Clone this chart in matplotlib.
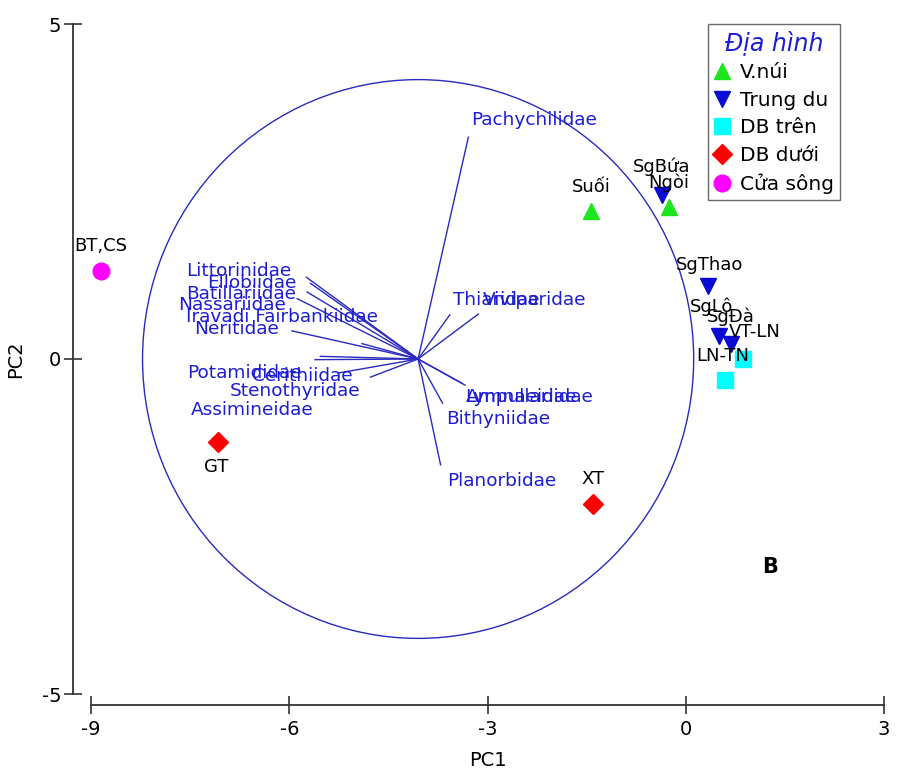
import matplotlib
matplotlib.use("Agg")
import matplotlib.pyplot as plt
from matplotlib.patches import Ellipse
from matplotlib.lines import Line2D

plt.rcParams['font.family'] = ['DejaVu Sans']
plt.rcParams['axes.unicode_minus'] = False

# ---------------- data ----------------
# sample scores
sample_names = ["BT,CS", "GT", "XT", "Suối", "Ngòi", "SgBứa", "SgThao", "SgLô", "SgĐà", "VT-LN", "LN-TN"]
sample_pc1 = [-8.85, -7.08, -1.40, -1.43, -0.26, -0.36, 0.33, 0.51, 0.69, 0.86, 0.59]
sample_pc2 = [1.31, -1.24, -2.16, 2.21, 2.27, 2.45, 1.09, 0.34, 0.22, 0.00, -0.31]
sample_group = ["Cửa sông", "DB dưới", "DB dưới", "V.núi", "V.núi", "Trung du", "Trung du",
                "Trung du", "Trung du", "DB trên", "DB trên"]
# label offsets (pixels) relative to the point
sample_lab_dx = [0, -2, 0, 0, 0, 0, 2, -8, -1, 12, -2]
sample_lab_dy = [25, -25, 25, 24, 24, 28, 21, 29, 28, 27, 24]

# legend groups
groups = ["V.núi", "Trung du", "DB trên", "DB dưới", "Cửa sông"]
group_markers = ["^", "v", "s", "D", "o"]
group_colors = ["#1ee61e", "#0a0ad2", "#00ffff", "#ff0000", "#ff00ff"]

# family loadings (vector end points) and circle
circle_center = (-4.05, 0.0)
circle_radius = 4.17
family_names = ["Pachychilidae", "Thiaridae", "Viviparidae", "Lymnaeidae", "Ampullariidae",
                "Bithyniidae", "Planorbidae", "Littorinidae", "Ellobiidae", "Batillariidae",
                "Nassariidae", "Iravadi Fairbankiidae", "Neritidae", "Potamididae",
                "Cerithiidae", "Stenothyridae", "Assimineidae"]
family_x = [-3.29, -3.57, -3.14, -3.39, -3.34, -3.68, -3.71, -5.74, -5.68, -5.73,
            -5.88, -4.90, -5.96, -5.61, -4.77, -5.26, -5.53]
family_y = [3.31, 0.66, 0.67, -0.36, -0.39, -0.66, -1.58, 1.22, 1.13, 1.00,
            0.90, 0.23, 0.42, -0.01, -0.27, -0.21, 0.04]
family_lab_x = [-3.25, -3.52, -3.07, -3.34, -3.32, -3.63, -3.61, -7.56, -7.24, -7.56,
                -7.68, -7.56, -7.44, -7.55, -6.57, -6.90, -7.49]
family_lab_y = [3.57, 0.88, 0.88, -0.57, -0.57, -0.90, -1.82, 1.31, 1.13, 0.97,
                0.81, 0.63, 0.45, -0.21, -0.25, -0.48, -0.76]

# ---------------- figure ----------------
W, H = 897, 773
fig = plt.figure(figsize=(W / 100, H / 100), dpi=100)
x0, x1 = 91, 884
y_top, y_bot = 24, 694
ax = fig.add_axes([x0 / W, 1 - y_bot / H, (x1 - x0) / W, (y_bot - y_top) / H])
ax.set_xlim(-9, 3)
ax.set_ylim(-5, 5)

blue_txt = "#1c1cd2"
line_blue = "#2a2abf"

circ = Ellipse(circle_center, 2 * circle_radius, 2 * circle_radius, fill=False,
               edgecolor=line_blue, lw=1.0, zorder=1)
ax.add_patch(circ)

for fx, fy, name, lx, ly in zip(family_x, family_y, family_names, family_lab_x, family_lab_y):
    ax.plot([circle_center[0], fx], [circle_center[1], fy], color=line_blue, lw=1.0, zorder=2)
    ax.text(lx, ly, name, color=blue_txt, fontsize=13.3, ha="left", va="center", zorder=3)

gmap = {g: (m, c) for g, m, c in zip(groups, group_markers, group_colors)}
for name, px, py, g, dx, dy in zip(sample_names, sample_pc1, sample_pc2, sample_group,
                                   sample_lab_dx, sample_lab_dy):
    m, c = gmap[g]
    ms = 10 if m == "D" else 12
    ax.plot(px, py, marker=m, color=c, markersize=ms, linestyle="none", zorder=5, clip_on=False)
    ax.annotate(name, (px, py), xytext=(dx * 0.72, dy * 0.72), textcoords="offset points",
                ha="center", va="center", fontsize=13, color="black", zorder=6)

ax.text(1.28, -3.1, "B", fontsize=15, fontweight="bold", ha="center", va="center")

# axes styling
for s in ["top", "right"]:
    ax.spines[s].set_visible(False)
ax.spines["left"].set_position(("outward", 13))
ax.spines["bottom"].set_position(("outward", 8))
ax.spines["left"].set_bounds(-5, 5)
ax.spines["bottom"].set_bounds(-9, 3)
for s in ["left", "bottom"]:
    ax.spines[s].set_color("#333333")
    ax.spines[s].set_linewidth(1.3)
ax.set_xticks([-9, -6, -3, 0, 3])
ax.set_yticks([-5, 0, 5])
ax.tick_params(axis="both", direction="inout", length=13, width=1.2, color="#333333",
               labelsize=14)
ax.tick_params(axis="y", pad=2)
ax.tick_params(axis="x", pad=4)
ax.set_xlabel("PC1", fontsize=14, labelpad=9)
ax.set_ylabel("PC2", fontsize=14, labelpad=12)

handles = [Line2D([], [], marker=m, color=c, linestyle="none",
                  markersize=(10 if m == "D" else 12)) for m, c in zip(group_markers, group_colors)]
leg = ax.legend(handles, groups, loc="upper left",
                bbox_to_anchor=(708 / W, 1 - 24 / H), bbox_transform=fig.transFigure,
                fontsize=14.5, title="Địa hình", frameon=True, fancybox=False,
                handlelength=0.8, handletextpad=0.5, borderpad=0.3, labelspacing=0.42,
                borderaxespad=0)
leg.get_title().set_color(blue_txt)
leg.get_title().set_fontstyle("italic")
leg.get_title().set_fontsize(17)
leg.get_frame().set_edgecolor("#444444")
leg.get_frame().set_linewidth(1.0)

fig.savefig("out.png", dpi=100)
